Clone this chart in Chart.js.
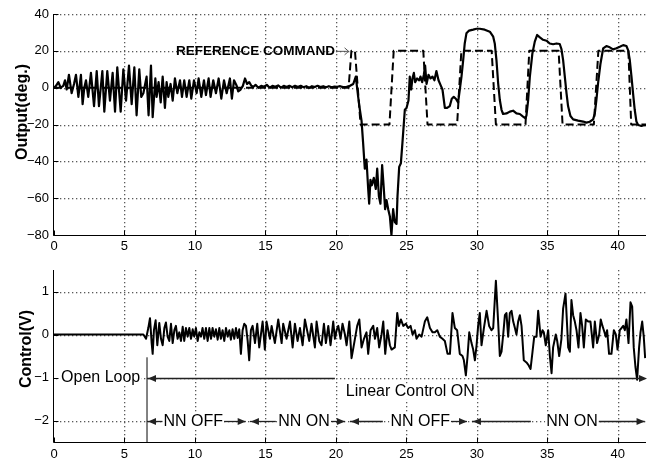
<!DOCTYPE html>
<html><head><meta charset="utf-8">
<script src="https://cdn.jsdelivr.net/npm/chart.js@4/dist/chart.umd.min.js"></script>
<style>
html,body{margin:0;padding:0;background:#fff;}
#wrap{position:relative;width:656px;height:461px;overflow:hidden;background:#fff;}
canvas{position:absolute;left:0;}
</style>
</head><body>
<div id="wrap">
<canvas id="top" width="656" height="262" style="top:0px;width:656px;height:262px"></canvas>
<canvas id="bot" width="656" height="205" style="top:256px;width:656px;height:205px"></canvas>
</div>
<script>
// ---------------- DATA ----------------
const timeTicks = [0, 5, 10, 15, 20, 25, 30, 35, 40];
const outputTicks = [-80, -60, -40, -20, 0, 20, 40];
const controlTicks = [-2, -1, 0, 1];

// Output (deg.) vs time (s)
const outputTime = [
  0,0.14,0.31,0.47,0.66,0.78,0.90,1.06,1.25,1.42,
  1.56,1.73,1.91,2.03,2.15,2.27,2.43,2.62,2.84,3.03,
  3.19,3.43,3.57,3.78,3.97,4.16,4.33,4.49,4.73,4.92,
  5.11,5.32,5.51,5.70,5.86,6.05,6.19,6.34,6.57,6.71,
  6.88,7.00,7.19,7.28,7.42,7.57,7.71,7.87,7.99,8.11,
  8.27,8.42,8.58,8.75,8.94,9.08,9.24,9.41,9.60,9.74,
  9.93,10.12,10.26,10.45,10.64,10.78,10.97,11.11,11.30,11.49,
  11.68,11.87,12.06,12.25,12.48,12.62,12.77,12.96,13.07,13.24,
  13.40,13.55,13.70,13.85,14.00,14.15,14.30,14.50,14.70,14.90,
  15.10,15.30,15.50,15.70,15.90,16.10,16.30,16.50,16.70,16.90,
  17.10,17.30,17.50,17.70,17.90,18.10,18.30,18.50,18.70,18.90,
  19.10,19.30,19.50,19.70,19.90,20.10,20.30,20.50,20.76,21.00,
  21.23,21.41,21.58,21.70,21.82,21.93,22.05,22.17,22.29,22.36,
  22.45,22.55,22.69,22.83,22.93,23.05,23.16,23.28,23.40,23.49,
  23.59,23.71,23.83,23.94,24.06,24.18,24.30,24.37,24.49,24.61,
  24.72,24.89,25.01,25.15,25.24,25.34,25.43,25.53,25.62,25.76,
  25.91,26.00,26.12,26.24,26.33,26.43,26.57,26.71,26.85,26.99,
  27.13,27.28,27.42,27.56,27.73,27.89,28.08,28.22,28.36,28.51,
  28.67,28.79,28.91,29.03,29.14,29.26,29.45,29.74,29.97,30.21,
  30.56,30.92,31.16,31.27,31.39,31.51,31.63,31.75,31.86,32.10,
  32.34,32.57,32.81,33.05,33.28,33.45,33.52,33.64,33.76,33.94,
  34.11,34.28,34.47,34.70,34.94,35.17,35.41,35.65,35.88,36.00,
  36.12,36.24,36.36,36.47,36.64,36.83,37.18,37.54,37.77,38.01,
  38.25,38.37,38.48,38.60,38.77,38.96,39.19,39.43,39.67,39.90,
  40.14,40.38,40.61,40.73,40.85,40.97,41.08,41.20,41.32,41.44,
  41.68,41.91,42.00
];
const outputValue = [
  0,1,3,0,1,4,-1,7,-3,2,
  7,-5,7,-9,0,4,-5,8,-10,9,
  -10,9,-13,9,-7,8,-13,11,-13,10,
  -7,12,-9,11,-15,10,-5,-3,6,-15,
  12,-16,5,-5,3,-8,6,-11,3,-5,
  2,-7,5,-3,4,-5,4,-5,4,-6,
  4,-3,5,-5,4,-4,5,-5,4,-3,
  5,-6,4,-3,5,-6,4,1,-2,-1,
  1,5,2,3,1,0.5,1.5,0,1,0.5,
  1.5,0,1,0.5,1.2,0,1,0.3,1,0.2,
  1,0.3,1,0.2,0.8,0,0.8,0.3,1,0.3,
  0.8,0.2,0.8,0.2,0.6,0.5,0.8,0.3,0.5,1,
  2,6,-5,-12,-18,-30,-44,-39,-55,-63,
  -50,-53,-49,-55,-44,-59,-63,-42,-55,-66,
  -61,-66,-70,-80,-66,-73,-74,-59,-43,-41,
  -30,-12,-11,-7,6,-1,5,8,3,5,
  4,6,3,7,12,2,7,5,6,4,
  9,4,1.5,-1,-11,-11,-10,-6,-5,-6,
  -8,-1,6,15,24,29.5,31,31.5,32,32,
  31.5,30.4,27.7,24,15,2.4,-6.7,-12,-14.3,-14,
  -13,-12.5,-14,-14.3,-15.7,-16.6,-15,-6.7,6,18.6,
  25,28.6,27.3,26,25.5,24,23.6,24,23.7,21,
  15,6,-3,-10,-15.4,-17.2,-17.9,-18.4,-19,-18.5,
  -17.2,-14,-6.7,2.4,13,21.3,22.6,21.9,20.8,21.4,
  22.2,23.1,22.6,20.4,15,6,-3,-12,-18.4,-20.3,
  -20.8,-20.3,-20.5
];

// Reference command (deg.)
const referenceTime  = [0,20.9,21.1,21.35,21.75,23.8,24.1,26.2,26.5,28.6,28.9,31.05,31.35,33.45,33.72,35.8,36.08,38.3,38.62,40.75,40.95,42];
const referenceValue = [0,0,20,20,-20,-20,20,20,-20,-20,20,20,-20,-20,20,20,-20,-20,20,20,-20,-20];

// Control (V)
const controlTime = [
  0,6.34,6.53,6.69,6.81,6.93,7.00,7.09,7.21,7.33,
  7.47,7.59,7.71,7.83,7.94,8.06,8.18,8.30,8.42,8.54,
  8.65,8.77,8.89,9.01,9.13,9.24,9.36,9.48,9.60,9.72,
  9.84,9.95,10.07,10.19,10.31,10.43,10.54,10.66,10.78,10.90,
  11.02,11.14,11.25,11.37,11.49,11.61,11.73,11.84,11.96,12.08,
  12.20,12.32,12.44,12.55,12.67,12.79,12.91,13.03,13.14,13.26,
  13.38,13.50,13.62,13.74,13.85,13.97,14.09,14.26,14.42,14.56,
  14.80,14.96,15.08,15.32,15.44,15.67,15.91,16.15,16.26,16.50,
  16.74,16.93,17.09,17.28,17.45,17.64,17.80,18.11,18.27,18.51,
  18.63,18.82,18.98,19.15,19.29,19.46,19.62,19.81,19.93,20.05,
  20.17,20.33,20.47,20.64,20.76,20.95,21.11,21.35,21.51,21.66,
  21.82,21.99,22.17,22.29,22.46,22.65,22.77,22.93,23.07,23.24,
  23.36,23.50,23.66,23.83,23.95,24.18,24.35,24.47,24.61,24.78,
  24.96,25.13,25.30,25.44,25.60,25.72,25.91,26.08,26.31,26.48,
  26.67,26.86,27.02,27.19,27.37,27.56,27.73,27.92,28.09,28.27,
  28.44,28.60,28.79,28.98,29.08,29.22,29.34,29.46,29.62,29.74,
  29.86,29.98,30.09,30.21,30.33,30.50,30.69,30.87,31.04,31.16,
  31.35,31.51,31.63,31.75,31.87,31.99,32.10,32.22,32.34,32.46,
  32.58,32.70,32.81,32.93,33.05,33.17,33.33,33.52,33.64,33.81,
  33.95,34.07,34.23,34.35,34.52,34.66,34.75,34.89,35.06,35.18,
  35.30,35.41,35.60,35.70,35.84,36.00,36.12,36.29,36.48,36.60,
  36.71,36.83,36.95,37.07,37.21,37.35,37.47,37.59,37.73,37.90,
  38.06,38.25,38.37,38.53,38.68,38.79,38.91,39.01,39.15,39.24,
  39.38,39.55,39.72,39.86,39.98,40.14,40.26,40.38,40.50,40.61,
  40.76,40.90,41.02,41.13,41.25,41.37,41.51,41.61,41.73,41.84,
  41.94
];
const controlValue = [
  0,0,-0.1,0.15,0.38,-0.2,-0.45,0.1,0.33,-0.25,
  0.27,-0.1,-0.25,0.15,0.28,-0.05,-0.15,0.25,-0.2,0.1,
  0.2,-0.1,0.05,-0.15,0.18,-0.15,0.15,-0.05,0.15,-0.1,
  0.12,-0.05,0.15,-0.15,0.05,-0.05,0.15,-0.1,0.15,-0.15,
  0.15,-0.1,0.15,-0.05,0.12,-0.12,0.15,-0.1,0.1,-0.15,
  0.15,-0.05,0.1,-0.12,0.12,-0.1,0.15,-0.08,0.12,-0.45,
  0.1,0.25,0.2,-0.15,-0.6,0.1,0.2,-0.2,0.25,-0.3,
  0.3,-0.35,0.3,-0.1,0.2,-0.2,0.35,-0.2,0.25,-0.1,
  0.3,-0.3,0.25,-0.15,0.15,-0.25,0.35,-0.15,0.25,-0.3,
  0.3,-0.15,-0.25,0.25,-0.2,0.2,-0.25,0.3,-0.1,0.1,
  0.2,-0.1,0.25,0,-0.25,0.3,-0.55,-0.1,0.2,0.35,
  -0.3,-0.1,0.05,-0.45,0.1,0.2,-0.1,0.15,-0.3,0,
  0.3,-0.45,0.1,-0.25,-0.35,-0.3,0.5,0.2,0.35,0.2,
  0.25,0.15,0.2,0,0.1,-0.1,0,-0.05,0.3,0.4,
  0.15,0.05,0.05,0.1,-0.05,-0.1,-0.15,-0.45,-0.45,0.5,
  0.15,0.1,-0.45,-0.5,-0.6,-0.95,-0.5,0.05,-0.2,-0.35,
  -0.6,-0.25,0.2,0.5,-0.25,0.15,0.55,0.2,0.1,0.15,
  1.25,0.3,-0.5,-0.4,0,0.45,0.5,-0.05,0.5,0.55,
  0.3,0.15,0,0.3,0.45,0.2,-0.6,-0.65,-0.7,-0.8,
  -0.4,-0.05,-0.05,0.55,-0.05,0.1,0.05,-0.25,0.1,-0.5,
  -0.9,-0.3,0,-0.15,-0.5,-0.1,0.6,0.95,-0.3,-0.4,
  0.8,0.45,0.3,0.1,-0.3,0.5,0.2,-0.3,0.35,0.3,
  0.3,-0.3,0.3,-0.2,0,0.35,0.2,0.1,-0.05,0.1,
  -0.45,-0.45,0.1,0,-0.35,0.1,0.15,0.2,0.1,0.35,
  -0.2,0.75,0.65,-0.3,-0.75,-1.05,-0.3,0.05,0.3,-0.05,
  -0.55
];

// Annotation anchors (data units)
const loopSwitchTime = 6.6;
const phaseLabels = ['NN OFF', 'NN ON', 'NN OFF', 'NN ON'];
const phaseStart = [6.6, 13.9, 21.0, 29.65];
const phaseEnd = [13.6, 20.64, 29.3, 41.9];
const phaseLineLeftEnd = [7.87, 15.74, 23.33, 33.83];
const phaseLineRightStart = [11.9, 19.65, 28.1, 38.6];
const phaseLabelCenter = [9.88, 17.73, 25.98, 36.75];

// ---------------- RENDER ----------------
const FONT = '"Liberation Sans", Arial, Helvetica, sans-serif';
const fmt = v => (v < 0 ? '\u2212' : '') + Math.abs(v);
const pts = (ts, vs) => ts.map((t, i) => ({x: t, y: vs[i]}));

function axisScales(yMin, yMax, yTicks, xHeight, xPad) {
  return {
    x: {type: 'linear', min: 0, max: 42,
      afterBuildTicks: s => { s.ticks = timeTicks.map(v => ({value: v})); },
      afterFit: s => { s.height = xHeight; },
      grid: {display: false, drawTicks: false}, border: {display: false},
      ticks: {color: '#000', font: {family: FONT, size: 13}, padding: xPad, maxRotation: 0, autoSkip: false, callback: v => fmt(v)}
    },
    y: {type: 'linear', min: yMin, max: yMax,
      afterBuildTicks: s => { s.ticks = yTicks.map(v => ({value: v})); },
      afterFit: s => { s.width = 54; },
      grid: {display: false, drawTicks: false}, border: {display: false},
      ticks: {color: '#000', font: {family: FONT, size: 13}, padding: 5, autoSkip: false, callback: v => fmt(v)}
    }
  };
}

// dotted grid, from the scales' own ticks
function dots(ctx, x1, y1, x2, y2) {
  const len = Math.max(Math.abs(x2 - x1), Math.abs(y2 - y1));
  for (let d = 0; d <= len; d += 4) {
    const px = x1 === x2 ? x1 : x1 + d, py = y1 === y2 ? y1 : y1 + d;
    ctx.fillRect(px, py, 1.3, 1.3);
  }
}
function drawGrid(chart) {
  const {ctx, chartArea: a, scales: {x, y}} = chart;
  ctx.save(); ctx.fillStyle = '#5a5a5a';
  x.ticks.forEach(t => { const px = Math.round(x.getPixelForValue(t.value)); if (px > a.left + 1) dots(ctx, px, Math.round(a.top), px, Math.round(a.bottom)); });
  y.ticks.forEach(t => { const py = Math.round(y.getPixelForValue(t.value)); if (py < a.bottom - 1) dots(ctx, Math.round(a.left) + 2, py, Math.round(a.right), py); });
  ctx.restore();
}
const gridPlugin = {id: 'dotGrid', beforeDraw(chart) {
  drawGrid(chart);
}, afterDraw(chart) {
  const {ctx, chartArea: a, scales: {x, y}} = chart;
  ctx.save(); ctx.strokeStyle = '#000'; ctx.lineWidth = 1; ctx.beginPath();
  const L = Math.round(a.left) - 0.5, B = Math.round(a.bottom) + 0.5;
  ctx.moveTo(L, a.top); ctx.lineTo(L, B); ctx.lineTo(a.right, B);
  x.ticks.forEach(t => { const px = Math.round(x.getPixelForValue(t.value)) + 0.5; ctx.moveTo(px, B); ctx.lineTo(px, B - 5); });
  y.ticks.forEach(t => { const py = Math.round(y.getPixelForValue(t.value)) + 0.5; ctx.moveTo(L, py); ctx.lineTo(L + 5, py); });
  ctx.stroke(); ctx.restore();
}};

function yTitle(ctx, text, cx, cy) {
  ctx.save(); ctx.translate(cx, cy); ctx.rotate(-Math.PI / 2);
  ctx.font = 'bold 16px ' + FONT; ctx.fillStyle = '#000';
  ctx.textAlign = 'center'; ctx.textBaseline = 'middle';
  ctx.fillText(text, 0, 0); ctx.restore();
}
function arrowHead(ctx, x, y, dir) {
  ctx.beginPath(); ctx.moveTo(x, y); ctx.lineTo(x - dir * 8, y - 3.5); ctx.lineTo(x - dir * 8, y + 3.5); ctx.closePath(); ctx.fill();
}
function hline(ctx, x1, x2, y) { ctx.beginPath(); ctx.moveTo(x1, y); ctx.lineTo(x2, y); ctx.stroke(); }
function bgText(ctx, text, x, y, align) {
  const w = ctx.measureText(text).width;
  const left = align === 'center' ? x - w / 2 : x;
  ctx.save(); ctx.fillStyle = '#fff'; ctx.fillRect(left - 1, y - 8, w + 2, 16); ctx.restore();
  ctx.textAlign = align; ctx.textBaseline = 'middle'; ctx.fillText(text, x, y);
}

const common = {
  responsive: false, animation: false, devicePixelRatio: 1, events: [],
  plugins: {legend: {display: false}, tooltip: {enabled: false}},
  elements: {point: {radius: 0}, line: {tension: 0, borderJoinStyle: 'round'}}
};

new Chart(document.getElementById('top'), {
  type: 'line',
  data: {datasets: [
    {data: pts(outputTime, outputValue), borderColor: '#000', borderWidth: 2.2, fill: false},
    {data: pts(referenceTime, referenceValue), borderColor: '#000', borderWidth: 2, borderDash: [8, 4], fill: false}
  ]},
  options: Object.assign({}, common, {
    layout: {padding: {top: 14, right: 10, left: 0, bottom: 0}},
    scales: axisScales(-80, 40, outputTicks, 27, 4)
  }),
  plugins: [gridPlugin, {id: 'topDeco', afterDraw(chart) {
    const {ctx, scales: {x, y}} = chart;
    yTitle(ctx, 'Output(deg.)', 23, 112);
    ctx.save();
    ctx.font = 'bold 13.5px ' + FONT; ctx.fillStyle = '#000';
    ctx.textAlign = 'left'; ctx.textBaseline = 'middle';
    const tx = x.getPixelForValue(8.65), ty = y.getPixelForValue(20);
    ctx.fillText('REFERENCE COMMAND', tx, ty);
    const ax1 = tx + ctx.measureText('REFERENCE COMMAND').width + 1, ax2 = x.getPixelForValue(20.9);
    ctx.strokeStyle = '#555'; ctx.lineWidth = 1;
    ctx.beginPath(); ctx.moveTo(ax1, ty + 0.5); ctx.lineTo(ax2, ty + 0.5);
    ctx.moveTo(ax2 - 4, ty - 3); ctx.lineTo(ax2, ty + 0.5); ctx.lineTo(ax2 - 4, ty + 4); ctx.stroke();
    ctx.restore();
  }}]
});

new Chart(document.getElementById('bot'), {
  type: 'line',
  data: {datasets: [
    {data: pts(controlTime, controlValue), borderColor: '#000', borderWidth: 2, fill: false}
  ]},
  options: Object.assign({}, common, {
    layout: {padding: {top: 14, right: 10, left: 0, bottom: 0}},
    scales: axisScales(-2.5, 1.5, controlTicks, 19, 5)
  }),
  plugins: [gridPlugin, {id: 'botDeco', afterDraw(chart) {
    const {ctx, chartArea: a, scales: {x, y}} = chart;
    yTitle(ctx, 'Control(V)', 27, 93);
    ctx.save();
    const sx = x.getPixelForValue(loopSwitchTime);
    ctx.strokeStyle = '#808080'; ctx.lineWidth = 2;
    ctx.beginPath(); ctx.moveTo(sx, y.getPixelForValue(-0.53)); ctx.lineTo(sx, a.bottom); ctx.stroke();
    ctx.font = '16px ' + FONT; ctx.fillStyle = '#000';
    bgText(ctx, 'Open Loop', x.getPixelForValue(0.5), y.getPixelForValue(-1), 'left');
    ctx.strokeStyle = '#222'; ctx.fillStyle = '#222'; ctx.lineWidth = 1.3;
    const y1 = Math.round(y.getPixelForValue(-1)) + 0.5;
    hline(ctx, sx, x.getPixelForValue(19.93), y1);
    hline(ctx, x.getPixelForValue(29.93), x.getPixelForValue(42) - 2, y1);
    arrowHead(ctx, sx + 1, y1, -1);
    arrowHead(ctx, x.getPixelForValue(42) + 1, y1, 1);
    ctx.fillStyle = '#000';
    bgText(ctx, 'Linear Control ON', x.getPixelForValue(25.28), y.getPixelForValue(-1.33), 'center');
    const y2 = Math.round(y.getPixelForValue(-2)) + 0.5;
    for (let i = 0; i < phaseLabels.length; i++) {
      const xs = x.getPixelForValue(phaseStart[i]), xe = x.getPixelForValue(phaseEnd[i]);
      ctx.strokeStyle = '#222'; ctx.fillStyle = '#222';
      hline(ctx, xs, x.getPixelForValue(phaseLineLeftEnd[i]), y2);
      hline(ctx, x.getPixelForValue(phaseLineRightStart[i]), xe, y2);
      arrowHead(ctx, xs + 1, y2, -1);
      arrowHead(ctx, xe, y2, 1);
      ctx.fillStyle = '#000';
      bgText(ctx, phaseLabels[i], x.getPixelForValue(phaseLabelCenter[i]), y2, 'center');
    }
    ctx.restore();
  }}]
});
</script>
</body></html>
